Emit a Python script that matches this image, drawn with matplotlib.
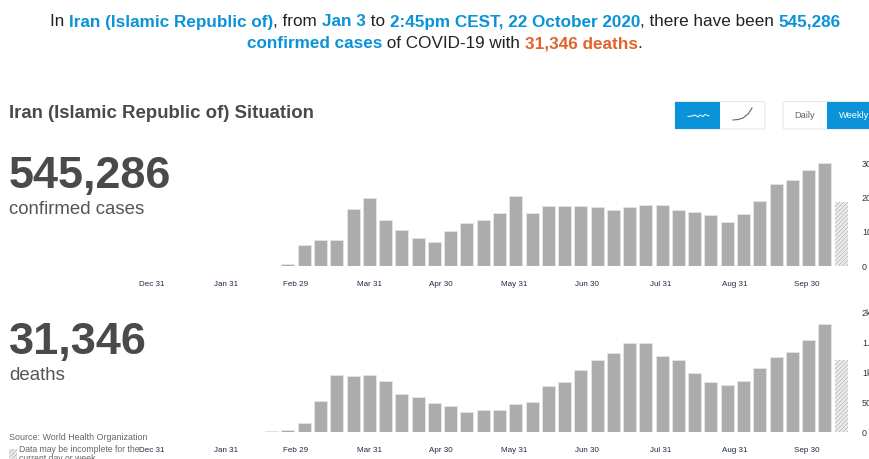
#!/usr/bin/env python3
"""WHO dashboard panel for Iran: weekly confirmed cases and deaths."""
import matplotlib
matplotlib.use("Agg")
import matplotlib.pyplot as plt
from matplotlib.patches import FancyBboxPatch, Rectangle

plt.rcParams["font.family"] = ["Liberation Sans", "DejaVu Sans"]
plt.rcParams["hatch.linewidth"] = 0.4

# weekly values, last week is the incomplete (hatched) one
cases = [100, 500, 6000, 7500, 7600, 16700, 19900, 13400, 10500, 8200, 7000, 10200,
         12500, 13300, 15400, 20400, 15500, 17500, 17500, 17600, 17300, 16500, 17300, 17800,
         17800, 16400, 15700, 14900, 12800, 15200, 19000, 24000, 25000, 28100, 30200, 18700]
deaths = [11, 28, 146, 522, 954, 948, 959, 864, 634, 583, 482, 432,
          337, 365, 365, 466, 510, 769, 847, 1038, 1217, 1335, 1498, 1492,
          1273, 1217, 999, 847, 785, 864, 1083, 1268, 1341, 1543, 1823, 1212]

month_labels = ["Dec 31", "Jan 31", "Feb 29", "Mar 31", "Apr 30", "May 31", "Jun 30", "Jul 31", "Aug 31", "Sep 30"]
month_pos = [-7.36, -2.81, 1.48, 6.04, 10.4, 14.9, 19.4, 23.93, 28.48, 32.9]  # in weeks from first bar

case_ticks = [0, 10000, 20000, 30000]
case_tick_labels = ["0", "10k", "20k", "30k"]
death_ticks = [0, 500, 1000, 1500, 2000]
death_tick_labels = ["0", "500", "1k", "1.5k", "2k"]

BLUE = "#0a93d8"
ORANGE = "#e0632c"
GREY = "#4a4a4a"
BAR = "#adabab"
W, H = 870, 459

fig = plt.figure(figsize=(W / 100, H / 100), dpi=100)
bg = fig.add_axes([0, 0, 1, 1])
bg.set_xlim(0, W); bg.set_ylim(H, 0); bg.axis("off")


def draw_runs(runs, cx, y, size):
    # one centred line made of differently styled pieces
    rend = fig.canvas.get_renderer()
    widths = []
    for s, c, w in runs:
        t = bg.text(0, y, s.replace(" ", "\u00a0"), fontsize=size, fontweight=w)
        widths.append(t.get_window_extent(rend).width)
        t.remove()
    x = cx - sum(widths) / 2
    for (s, c, w), wd in zip(runs, widths):
        bg.text(x, y, s.replace(" ", "\u00a0"), fontsize=size, color=c, fontweight=w, va="center_baseline", ha="left")
        x += wd


def panel(top, bottom, values, ticks, tick_labels, ymax):
    # axes spans pixel columns 140..856; bar i sits at 271.7 + 16.27 * i
    x0, x1 = 140, 856
    ax = fig.add_axes([x0 / W, 1 - bottom / H, (x1 - x0) / W, (bottom - top) / H])
    ax.patch.set_alpha(0)
    ax.set_xlim((x0 - 271.7) / 16.27, (x1 - 271.7) / 16.27)
    ax.set_ylim(0, ymax)
    pos = list(range(len(values)))
    ax.bar(pos[:-1], values[:-1], width=0.8, color=BAR, edgecolor="#e4e3e3", linewidth=0.7)
    ax.bar(pos[-1], values[-1], width=0.8, color="#ececec", edgecolor="#a4a4a4", hatch="////////", linewidth=0)
    for s in ax.spines.values():
        s.set_visible(False)
    ax.yaxis.tick_right()
    ax.set_yticks(ticks)
    ax.set_yticklabels(tick_labels, fontsize=6.4, color="#333333", va="center_baseline")
    ax.set_xticks(month_pos)
    ax.set_xticklabels(month_labels, fontsize=5.8, color="#1d2a44")
    ax.tick_params(axis="x", length=0, pad=10.7)
    ax.tick_params(axis="y", length=0, pad=4.3)
    return ax


panel(163.3, 266, cases, case_ticks, case_tick_labels, 30000)
panel(312, 432, deaths, death_ticks, death_tick_labels, 2000 * 120 / 119)

# headline sentence
draw_runs([("In ", "#222222", "normal"), ("Iran (Islamic Republic of)", BLUE, "bold"), (", from ", "#222222", "normal"),
           ("Jan 3", BLUE, "bold"), (" to ", "#222222", "normal"), ("2:45pm CEST, 22 October 2020", BLUE, "bold"),
           (", there have been ", "#222222", "normal"), ("545,286", BLUE, "bold")], 445.5, 20.5, 12.3)
draw_runs([("confirmed cases", BLUE, "bold"), (" of COVID-19 with ", "#222222", "normal"),
           ("31,346 deaths", ORANGE, "bold"), (".", "#222222", "normal")], 444.5, 42.5, 12.3)

bg.text(9, 113.5, "Iran (Islamic Republic of) Situation", fontsize=13.4, fontweight="bold", color=GREY, va="center")
bg.text(9, 176.5, "545,286", fontsize=32.4, fontweight="bold", color=GREY, va="center")
bg.text(9, 210, "confirmed cases", fontsize=13.4, color="#555555", va="center")
bg.text(9, 342.5, "31,346", fontsize=32.4, fontweight="bold", color=GREY, va="center")
bg.text(9, 376, "deaths", fontsize=13.4, color="#555555", va="center")

# footer
bg.text(9, 437, "Source: World Health Organization", fontsize=6.4, color="#666666", va="center")
bg.add_patch(Rectangle((9, 449), 8, 12, facecolor="#ececec", edgecolor="#a4a4a4", hatch="////////", linewidth=0))
bg.text(19, 449.5, "Data may be incomplete for the", fontsize=6.25, color="#666666", va="center")
bg.text(19, 458.5, "current day or week", fontsize=6.25, color="#666666", va="center")


def button(x0, x1, split, y0=101.5, y1=129):
    bg.add_patch(FancyBboxPatch((x0, y0), x1 - x0, y1 - y0, boxstyle="round,pad=0,rounding_size=2",
                                facecolor="white", edgecolor="#e6e6e6", linewidth=0.8))
    bg.add_patch(Rectangle((split[0], y0), split[1], y1 - y0, facecolor=BLUE, edgecolor="none"))


button(675, 765, (675, 45))
button(783, 880, (827, 50))
bg.plot([688, 692, 695, 698, 700, 703, 705, 709], [116.5, 116, 115, 117, 115, 116.5, 114.5, 116], color="white", lw=0.7)
bg.plot([733, 738, 743, 748, 752], [120, 119.5, 118, 114, 108], color="#666666", lw=0.8)
bg.text(805, 115.5, "Daily", fontsize=6.7, color="#666666", ha="center", va="center")
bg.text(838.5, 115.5, "Weekly", fontsize=6.7, color="#ffffff", ha="left", va="center")

fig.savefig("out.png", dpi=100)
